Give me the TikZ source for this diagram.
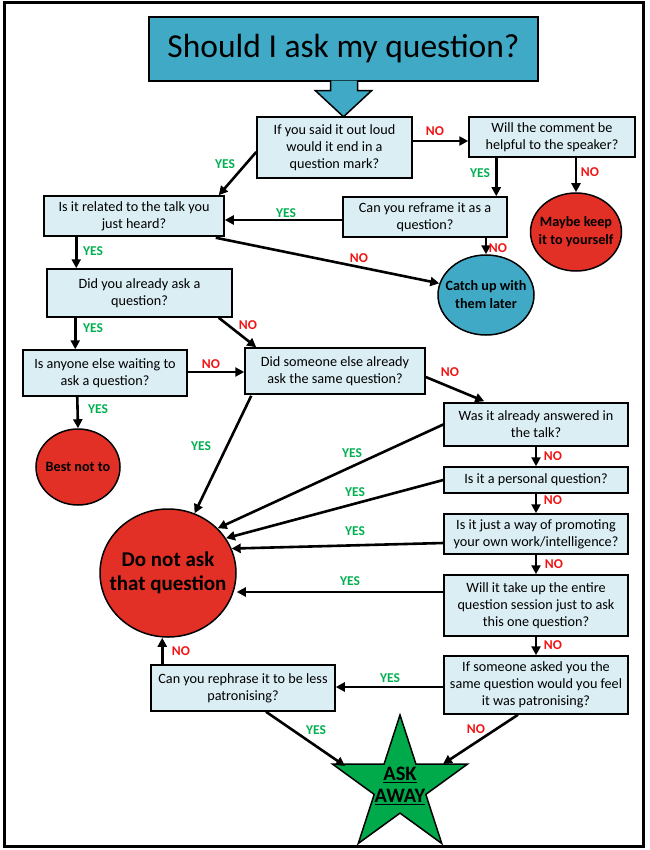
\documentclass[tikz,border=0pt]{standalone}
\usepackage{fontspec}
\setmainfont{Carlito}
\usetikzlibrary{arrows.meta,shapes.geometric,calc}
\definecolor{tealc}{RGB}{64,170,198}
\definecolor{lightq}{RGB}{219,238,244}
\definecolor{redc}{RGB}{226,48,38}
\definecolor{starg}{RGB}{0,170,75}
\definecolor{yesg}{RGB}{0,176,80}
\definecolor{nor}{RGB}{240,20,20}
\begin{document}
\begin{tikzpicture}[x=1pt,y=-1pt,
  qbox/.style={draw=black, line width=1.5pt, fill=lightq, inner sep=0pt, align=center, font=\fontsize{14.2}{17}\selectfont},
  endc/.style={ellipse, draw=black, line width=1.5pt, inner sep=0pt},
  endtext/.style={inner sep=0pt, align=center, font=\bfseries\fontsize{14.2}{18}\selectfont},
  arr/.style={line width=2.6pt, -{Triangle[length=9pt,width=9pt]}},
  yes/.style={text=yesg, font=\bfseries\fontsize{13.5}{15}\selectfont, inner sep=0pt},
  no/.style={text=nor, font=\bfseries\fontsize{13.5}{15}\selectfont, inner sep=0pt}]
\useasboundingbox (0,0) rectangle (649,850);
\draw[line width=3pt] (4,3) rectangle (643,846);
% title
\node[draw=black, line width=1.5pt, fill=tealc, minimum width=389pt, minimum height=64pt, inner sep=0pt, font=\fontsize{33.5}{38}\selectfont] (title) at (343.5,49) {Should I ask my question?};
\filldraw[fill=tealc, draw=black, line width=1.5pt] ($(title.south)+(-13,-1.2)$) -- ++(0,10.2) -- ++(-15,0) -- ($(title.south)+(0,35)$) -- ($(title.south)+(28,9)$) -- ++(-14,0) -- ++(0,-10.2);
% boxes
\node[qbox, minimum width=155pt, minimum height=61pt] (b1) at (334.5,147.5) {If you said it out loud\\would it end in a\\question mark?};
\node[qbox, minimum width=166pt, minimum height=40pt] (b2) at (552,137) {Will the comment be\\helpful to the speaker?};
\node[qbox, minimum width=180pt, minimum height=40pt] (b3) at (134,216) {Is it related to the talk you\\just heard?};
\node[qbox, minimum width=164pt, minimum height=40pt] (b4) at (425,217) {Can you reframe it as a\\question?};
\node[qbox, minimum width=185pt, minimum height=48pt] (b5) at (139.5,293) {Did you already ask a\\question?};
\node[qbox, minimum width=164pt, minimum height=46pt] (b6) at (105,373) {Is anyone else waiting to\\ask a question?};
\node[qbox, minimum width=180pt, minimum height=46pt] (b7) at (335,371) {Did someone else already\\ask the same question?};
\node[qbox, minimum width=184pt, minimum height=43pt] (b8) at (536,424.5) {Was it already answered in\\the talk?};
\node[qbox, minimum width=184pt, minimum height=26pt] (b9) at (536,480) {Is it a personal question?};
\node[qbox, minimum width=184pt, minimum height=40pt] (b10) at (536,534) {Is it just a way of promoting\\your own work/intelligence?};
\node[qbox, minimum width=184pt, minimum height=61pt] (b11) at (536,605.5) {Will it take up the entire\\question session just to ask\\this one question?};
\node[qbox, minimum width=184pt, minimum height=58pt] (b12) at (536,685) {If someone asked you the\\same question would you feel\\it was patronising?};
\node[qbox, minimum width=184pt, minimum height=46pt] (b13) at (243,688) {Can you rephrase it to be less\\patronising?};
% end nodes
\node[endc, fill=redc, minimum width=91pt, minimum height=78pt] (maybe) at (576,232) {};
\node[endtext] (maybet) at (maybe.center) {Maybe keep\\it to yourself};
\node[endc, fill=tealc, minimum width=96pt, minimum height=80pt] (catch) at (486,295) {};
\node[endtext] (catcht) at (catch.center) {Catch up with\\them later};
\node[endc, fill=redc, minimum width=84pt, minimum height=76pt] (best) at (78,467) {};
\node[endtext] (bestt) at (best.center) {Best not to};
\node[endc, fill=redc, minimum width=136pt, minimum height=128pt] (donot) at (168,573) {};
\node[endtext, font=\bfseries\fontsize{21}{24}\selectfont] (donott) at (donot.center) {Do not ask\\that question};
\node[star, star points=5, star point ratio=2.618, minimum size=142pt, fill=starg, draw=black, line width=1.5pt, inner sep=0pt] (star) at (400,786) {};
\node[endtext, font=\bfseries\fontsize{20.5}{22}\selectfont] (start) at (star.center) {\underline{ASK}\\\underline{AWAY}};
% connectors
\draw[arr] ($(b1.west)+(0,4.5)$) -- ($(b3.north east)+(-6,0)$);
\draw[arr] ($(b1.east)+(0,-6.5)$) coordinate (c2) -- (c2 -| b2.west);
\draw[arr] ($(b2.south west)+(28,0)$) coordinate (c3) -- (c3 |- b4.north);
\draw[arr] ($(b2.south)+(24,0)$) -- (maybe.north);
\draw[arr] ($(b4.west)+(0,3)$) coordinate (c5) -- (c5 -| b3.east);
\draw[arr] ($(b4.south)+(61,0)$) -- (catch.north);
\draw[arr] ($(b3.south east)+(-9,1)$) -- (catch.166);
\draw[arr] ($(b3.south west)+(33,0)$) coordinate (c8) -- (c8 |- b5.north);
\draw[arr] ($(b5.south west)+(29,0)$) coordinate (c9) -- (c9 |- b6.north);
\draw[arr] ($(b5.south east)+(-14,0)$) -- ($(b7.north west)+(12,0)$);
\draw[arr] ($(b6.east)+(0,-1)$) coordinate (c11) -- (c11 -| b7.west);
\draw[arr] ($(b6.south west)+(55,0)$) -- (best.north);
\draw[arr] ($(b7.south west)+(7,1)$) -- (donot.66);
\draw[arr] ($(b7.east)+(0,6)$) -- ($(b8.north west)+(41,-1)$);
\draw[arr] (b8.west) -- (donot.42);
\draw[arr] (b9.west) -- (donot.31);
\draw[arr] ($(b10.west)+(0,9)$) -- (donot.21);
\draw[arr] ($(b11.west)+(0,-13.5)$) coordinate (c18) -- (c18 -| donot.east);
\draw[arr] (b8.south) -- (b9.north);
\draw[arr] (b9.south) -- (b10.north);
\draw[arr] (b10.south) -- (b11.north);
\draw[arr] (b11.south) -- (b12.north);
\draw[arr] ($(b12.west)+(0,2)$) coordinate (c23) -- (c23 -| b13.east);
\draw[arr] ($(b13.north west)+(12,0)$) coordinate (c24) -- (c24 |- donot.south);
\draw[arr] ($(b13.south)+(23,0)$) -- ($(star.center)+(-55,-20)$);
\draw[arr] ($(b12.south)+(-18,0)$) -- ($(star.center)+(43,-22)$);
% labels
\node[yes] (l1) at (225,164) {YES};
\node[no] (l2) at (435,131) {NO};
\node[yes] (l3) at (480,173) {YES};
\node[no] (l4) at (590,172) {NO};
\node[yes] (l5) at (286,213) {YES};
\node[no] (l6) at (498,248) {NO};
\node[no] (l7) at (359,258) {NO};
\node[yes] (l8) at (93,251) {YES};
\node[yes] (l9) at (93,328) {YES};
\node[no] (l10) at (248,325) {NO};
\node[no] (l11) at (211,364) {NO};
\node[yes] (l12) at (98,409) {YES};
\node[yes] (l13) at (201,446) {YES};
\node[no] (l14) at (450,372) {NO};
\node[yes] (l15) at (352,453) {YES};
\node[yes] (l16) at (355,492) {YES};
\node[yes] (l17) at (355,531) {YES};
\node[yes] (l18) at (350,581) {YES};
\node[no] (l19) at (553,456) {NO};
\node[no] (l20) at (553,500) {NO};
\node[no] (l21) at (554,564) {NO};
\node[no] (l22) at (553,645) {NO};
\node[yes] (l23) at (390,678) {YES};
\node[no] (l24) at (181,651) {NO};
\node[yes] (l25) at (316,730) {YES};
\node[no] (l26) at (476,729) {NO};
\end{tikzpicture}
\end{document}
